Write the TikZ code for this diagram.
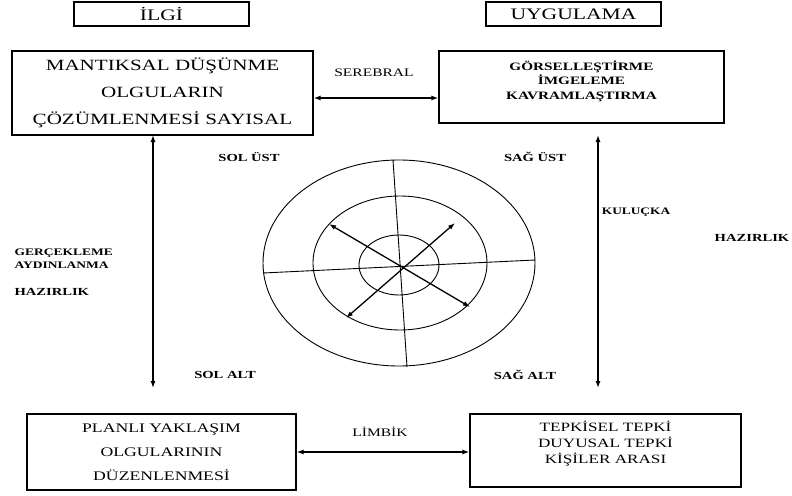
\documentclass[tikz,border=0pt]{standalone}
\usepackage{fontspec}
\setmainfont{Liberation Serif}[FakeStretch=1.35]
\usepackage{tikz}
\usetikzlibrary{arrows.meta,positioning,calc}

\begin{document}
\begin{tikzpicture}[
        x=1pt, y=-1pt,
        kutu/.style={rectangle, draw, line width=1.1pt, align=center, inner sep=0pt},
        baslik/.style={kutu, minimum width=175pt, minimum height=24pt, font=\fontsize{16}{18}\selectfont},
        etiket/.style={font=\fontsize{11.5}{13}\selectfont},
        koyu/.style={font=\bfseries\fontsize{10.8}{12}\selectfont},
        cift/.style={{Latex[length=7pt,width=5pt]}-{Latex[length=7pt,width=5pt]}, line width=1.3pt},
        halka/.style={line width=0.9pt},
    ]

        \useasboundingbox (0,0) rectangle (792,495);

        % baslik kutulari
        \node[baslik] (ilgi) at (161.5,14) {İLGİ};
        \node[baslik] (uygulama) at (573.5,14) {UYGULAMA};

        % dort kose kutulari
        \node[kutu, minimum width=301pt, minimum height=84pt, font=\fontsize{15.6}{27}\selectfont] (mantik) at (162.5,93)
            {MANTIKSAL DÜŞÜNME\\ OLGULARIN\\ ÇÖZÜMLENMESİ SAYISAL};
        \node[kutu, minimum width=285pt, minimum height=72pt, font=\bfseries\fontsize{11.3}{14.5}\selectfont] (gorsel) at (581.5,87)
            {GÖRSELLEŞTİRME\\ İMGELEME\\ KAVRAMLAŞTIRMA\\ \mbox{}};
        \node[kutu, minimum width=269pt, minimum height=76pt, font=\fontsize{13.1}{24}\selectfont] (planli) at (161.5,452)
            {PLANLI YAKLAŞIM\\ OLGULARININ\\ DÜZENLENMESİ};
        \node[kutu, minimum width=271pt, minimum height=73pt, font=\fontsize{12.7}{16}\selectfont] (tepki) at (605.5,450.5)
            {TEPKİSEL TEPKİ\\ DUYUSAL TEPKİ\\ KİŞİLER ARASI\\ \mbox{}};

        % yatay oklar
        \node[etiket] (serebral) at (374,73) {SEREBRAL};
        \coordinate (serebralok) at (376,98);
        \draw[cift] (mantik.east |- serebralok) -- (gorsel.west |- serebralok);
        \node[etiket] (limbik) at (380,432) {LİMBİK};
        \draw[cift] (planli.east) -- (planli.east -| tepki.west);

        % dikey oklar
        \coordinate (solust) at (153,135);
        \coordinate (solalt) at (153,388);
        \coordinate (sagust) at (598,135);
        \coordinate (sagalt) at (598,388);
        \draw[cift] (solust) -- (solalt);
        \draw[cift] (sagust) -- (sagalt);

        % bolge etiketleri
        \node[koyu] (solustyazi) at (249,157) {SOL ÜST};
        \node[koyu] (sagustyazi) at (535,157) {SAĞ ÜST};
        \node[koyu] (solaltyazi) at (225,375) {SOL ALT};
        \node[koyu] (sagaltyazi) at (525,375) {SAĞ ALT};
        \node[koyu, font=\bfseries\fontsize{9.9}{11}\selectfont] (kulucka) at (636,212) {KULUÇKA};
        \node[koyu] (hazirliksag) at (752,238) {HAZIRLIK};
        \node[koyu, anchor=west, font=\bfseries\fontsize{10}{11}\selectfont] (gerceklem) at (11,253) {GERÇEKLEME};
        \node[koyu, anchor=west, font=\bfseries\fontsize{10}{11}\selectfont] (aydinlanma) at (11,265) {AYDINLANMA};
        \node[koyu, anchor=west] (hazirliksol) at (11,292) {HAZIRLIK};

        % halkalar
        \draw[halka] (399,263) ellipse [x radius=136pt, y radius=103pt];
        \draw[halka] (400,263) ellipse [x radius=87pt, y radius=67pt];
        \draw[halka] (399,265) ellipse [x radius=40pt, y radius=30pt];
        \draw[halka] (393,160) -- (407,367);
        \draw[halka] (263,273) -- (535,260);

        % capraz oklar
        \coordinate (kb) at (329,224);
        \coordinate (gd) at (470,307);
        \coordinate (kd) at (455,223);
        \coordinate (gb) at (346,318);
        \draw[cift] (kb) -- (gd);
        \draw[cift] (kd) -- (gb);

    \end{tikzpicture}
\end{document}
